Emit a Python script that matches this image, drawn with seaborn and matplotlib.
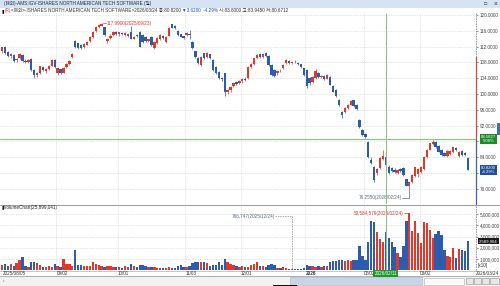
import numpy as np
import pandas as pd
import matplotlib
matplotlib.use('Agg')
import matplotlib.pyplot as plt
import seaborn as sns
from matplotlib import font_manager
from matplotlib.patches import Rectangle

# ---------------- data ----------------
holidays = ['2025-09-01', '2025-11-27', '2025-12-25', '2026-01-01', '2026-01-19', '2026-02-16']
dates = [d for d in pd.bdate_range('2025-08-05', '2026-03-24') if d.strftime('%Y-%m-%d') not in holidays]

opens = [110.8, 111.8, 110.6, 109.6, 109.8, 108.5, 109.0, 109.8, 108.4, 108.1,
         108.8, 106.0, 104.8, 105.3, 106.8, 105.9, 106.3, 107.2, 108.6, 105.3,
         106.2, 105.4, 106.8, 107.6, 109.3, 113.3, 112.8, 112.4, 111.9, 112.5,
         113.3, 114.3, 115.9, 117.0, 117.3, 116.9, 113.3, 114.1, 114.9, 115.6,
         115.1, 115.4, 114.9, 114.8, 115.8, 114.0, 115.0, 115.8, 114.9, 114.4,
         113.4, 114.5, 111.6, 112.8, 113.8, 114.8, 113.2, 114.8, 117.6, 117.3,
         115.9, 115.1, 114.6, 114.9, 115.3, 113.2, 110.8, 109.2, 107.3, 110.3,
         109.3, 110.0, 108.6, 106.8, 105.6, 104.0, 105.2, 100.6, 100.9, 102.0,
         103.0, 102.8, 103.2, 103.8, 104.0, 106.9, 107.6, 109.0, 110.0, 109.3,
         110.3, 109.6, 107.3, 106.0, 105.2, 105.9, 106.6, 107.8, 108.4, 107.9,
         108.2, 107.9, 107.5, 106.5, 106.1, 104.0, 103.0, 104.0, 105.2, 104.3,
         104.6, 103.9, 104.4, 102.1, 101.0, 98.5, 95.5, 95.5, 96.4, 97.3,
         98.4, 97.2, 93.4, 90.9, 89.9, 87.9, 83.3, 81.6, 79.9, 81.2,
         83.6, 84.1, 81.6, 81.2, 80.8, 80.0, 80.9, 81.2, 78.4, 76.6,
         77.6, 79.2, 79.8, 80.2, 80.9, 84.0, 85.9, 87.3, 87.8, 86.8,
         85.8, 85.0, 84.3, 84.9, 85.3, 86.4, 84.2, 85.6, 85.0, 83.80]
highs = [112.0, 112.1, 111.0, 110.4, 110.0, 109.2, 110.4, 110.0, 108.8, 108.8,
         109.0, 106.4, 105.6, 107.2, 107.1, 106.5, 107.3, 108.8, 108.9, 106.7,
         106.4, 106.8, 107.8, 108.6, 110.4, 113.6, 113.0, 112.6, 112.9, 113.4,
         114.6, 116.0, 117.2, 117.8, 117.99, 117.0, 114.2, 115.2, 115.9, 115.9,
         115.8, 115.7, 115.6, 115.4, 117.1, 114.7, 115.3, 116.0, 115.1, 114.6,
         114.0, 114.7, 113.4, 114.3, 115.1, 115.0, 114.7, 117.0, 117.8, 117.5,
         116.1, 115.3, 114.8, 115.6, 116.1, 113.4, 111.0, 109.4, 109.6, 110.5,
         110.6, 110.2, 108.8, 107.0, 105.8, 104.4, 105.4, 101.2, 102.0, 103.1,
         103.3, 103.6, 104.0, 104.2, 107.0, 107.9, 109.2, 110.0, 110.4, 110.4,
         110.6, 109.8, 107.5, 106.2, 106.0, 106.4, 107.6, 108.8, 108.6, 108.4,
         108.5, 108.2, 107.7, 106.7, 106.3, 104.2, 104.5, 106.4, 105.5, 104.9,
         104.8, 105.0, 104.6, 102.3, 101.2, 98.8, 95.8, 96.6, 97.4, 98.4,
         98.6, 97.4, 93.6, 91.1, 90.2, 88.1, 84.0, 81.8, 81.2, 84.0,
         85.8, 84.4, 81.9, 81.5, 81.3, 81.0, 81.2, 81.5, 78.6, 77.8,
         79.8, 81.6, 81.2, 81.8, 84.2, 86.0, 87.7, 88.3, 88.0, 87.0,
         86.0, 85.3, 85.8, 85.7, 86.7, 86.6, 85.5, 85.8, 85.4, 83.945]
lows = [110.5, 110.2, 109.3, 109.2, 108.2, 108.1, 108.8, 108.0, 107.8, 107.9,
        105.8, 104.0, 104.4, 105.0, 105.8, 105.2, 106.1, 107.0, 106.6, 104.8,
        105.1, 105.2, 106.6, 107.4, 109.1, 111.7, 111.5, 111.4, 111.7, 112.3,
        113.1, 114.1, 115.7, 116.8, 117.1, 114.8, 113.0, 113.8, 114.7, 114.9,
        114.8, 114.9, 114.7, 114.5, 113.8, 113.8, 114.4, 111.8, 113.0, 113.2,
        113.1, 112.2, 111.3, 112.6, 113.6, 114.0, 113.0, 114.6, 116.6, 116.4,
        114.7, 114.3, 113.9, 114.7, 113.8, 111.4, 109.2, 107.6, 107.1, 108.8,
        109.1, 108.9, 105.9, 105.0, 103.8, 103.4, 99.6, 99.9, 100.6, 101.8,
        102.3, 102.6, 102.9, 103.2, 103.8, 106.5, 107.4, 108.8, 109.1, 109.1,
        109.3, 107.2, 104.6, 104.3, 104.9, 105.5, 106.4, 107.6, 107.6, 107.7,
        107.8, 107.3, 106.6, 104.6, 101.6, 102.4, 102.8, 103.8, 104.0, 104.0,
        103.6, 103.7, 102.2, 100.4, 99.2, 97.0, 94.0, 95.3, 96.2, 97.1,
        96.7, 96.0, 91.5, 89.4, 88.8, 83.9, 82.4, 77.8, 79.5, 81.0,
        83.3, 81.8, 79.7, 80.3, 80.0, 79.8, 80.2, 79.3, 76.6, 76.255,
        77.4, 79.0, 79.0, 80.0, 80.7, 83.8, 85.7, 87.1, 86.4, 85.2,
        84.4, 84.2, 84.1, 84.6, 85.1, 85.6, 84.0, 84.4, 84.2, 80.6712]
closes = [111.8, 110.4, 109.5, 110.1, 108.4, 108.9, 110.2, 108.3, 108.0, 108.5,
          106.0, 104.9, 105.4, 107.0, 106.0, 106.3, 107.1, 108.6, 106.8, 106.5,
          105.3, 106.6, 107.6, 108.4, 110.2, 112.0, 111.7, 111.6, 112.7, 113.2,
          114.4, 115.8, 117.0, 117.5, 117.8, 115.0, 114.0, 114.8, 115.6, 115.1,
          115.6, 115.1, 115.4, 115.2, 114.0, 114.5, 114.6, 112.0, 113.2, 113.4,
          113.8, 112.4, 113.2, 114.1, 114.9, 114.2, 114.5, 116.6, 116.8, 116.6,
          114.9, 114.5, 114.1, 115.4, 115.0, 111.6, 109.4, 107.8, 109.4, 109.0,
          110.4, 109.2, 106.1, 105.2, 104.0, 103.7, 100.4, 100.9, 101.8, 102.9,
          102.6, 103.3, 103.8, 103.6, 106.8, 107.6, 109.0, 109.8, 109.3, 110.2,
          109.5, 107.4, 104.8, 104.5, 105.8, 105.7, 107.4, 108.6, 107.9, 108.2,
          108.0, 107.6, 106.8, 104.8, 101.9, 102.7, 104.3, 105.8, 104.3, 104.6,
          103.9, 104.8, 102.4, 100.6, 99.4, 97.2, 94.7, 96.4, 97.2, 98.2,
          96.9, 96.2, 91.7, 89.6, 89.0, 84.1, 82.6, 78.2, 81.0, 83.8,
          84.3, 82.0, 79.9, 80.6, 80.2, 80.8, 80.4, 79.5, 76.8, 77.6,
          79.6, 81.4, 80.9, 81.6, 84.0, 85.8, 87.5, 87.9, 86.6, 85.4,
          84.6, 84.4, 85.6, 85.5, 86.5, 85.8, 85.3, 84.6, 84.44, 80.82]
volumes_m = [4.5, 5.8, 4.0, 5.5, 4.2, 6.5, 9.0, 12.0, 4.0, 3.0,
             7.0, 7.5, 6.8, 4.5, 2.5, 3.0, 3.5, 3.2, 5.9, 3.8,
             2.8, 9.8, 6.0, 5.2, 4.0, 17.8, 5.0, 4.5, 3.8, 3.5,
             4.0, 7.4, 5.5, 5.0, 3.5, 3.0, 4.2, 3.6, 3.2, 2.5,
             3.0, 2.2, 3.5, 3.0, 5.9, 3.8, 3.0, 4.6, 4.4, 4.0,
             2.5, 3.0, 2.8, 2.2, 2.0, 1.8, 2.3, 2.6, 2.0, 2.4,
             3.8, 4.5, 3.2, 3.0, 3.5, 6.8, 7.4, 7.4, 7.0, 7.2,
             6.5, 4.0, 4.4, 4.5, 7.4, 5.0, 9.9, 7.0, 5.5, 5.0,
             3.5, 3.0, 3.8, 3.2, 3.0, 4.5, 5.2, 7.4, 4.0, 3.5,
             3.0, 4.8, 5.2, 5.0, 2.2, 2.0, 2.5, 1.8, 1.5, 0.766747,
             1.2, 0.9, 1.0, 1.8, 5.0, 3.8, 3.5, 3.0, 4.0, 3.2,
             3.4, 4.2, 7.4, 7.8, 8.0, 9.5, 9.2, 8.0, 9.0, 8.6,
             9.5, 8.8, 22.0, 13.0, 9.0, 25.0, 44.0, 43.0, 34.0, 28.0,
             25.0, 34.0, 29.0, 25.0, 21.0, 15.0, 12.0, 22.0, 43.5, 50.584579,
             35.0, 44.0, 33.0, 24.0, 43.0, 42.0, 36.0, 29.0, 32.0, 35.0,
             31.0, 18.0, 13.0, 12.0, 20.0, 11.0, 19.0, 17.7, 17.0, 25.899041]

tick_dates = ['2025-08-05', '2025-09-02', '2025-10-01', '2025-11-03', '2025-12-01',
              '2026-01-02', '2026-02-02', '2026-03-02']
tick_labels = ['2025/08/05', '09/02', '10/01', '11/03', '12/01', '2026', '02/02', '03/02']
last_label = '2026/03/24'
price_ticks = [76, 80, 84, 88, 92, 96, 100, 104, 108, 112, 116, 120]
vol_ticks = [1000000, 2000000, 3000000, 4000000, 5000000]
cross_date = '2026-02-11'
cross_price = 88.5827
cross_pct = '5.08%'
last_pct = '-4.29%'
max_date, min_date = '2025-09-23', '2026-02-24'
vmin_date = '2025-12-24'

title_text = '(해외)-AMS:IGV-ISHARES NORTH AMERICAN TECH SOFTWARE (일)'
info_parts = [('▮', '#111111'), ('(R)', '#d04040'),
              ('<해외>-ISHARES NORTH AMERICAN TECH SOFTWARE>2026/03/24 종:80.8200 ', '#333333'),
              ('▼3.6200  -4.29% ', '#2050c0'),
              ('시:83.8000 고:83.9450 저:80.6712', '#333333')]

# ---------------- style ----------------
sns.set_theme(style='white')
names = {f.name for f in font_manager.fontManager.ttflist}
lat = 'Liberation Sans Narrow' if 'Liberation Sans Narrow' in names else 'Liberation Sans'
FAM = [lat, 'Noto Sans CJK KR', 'DejaVu Sans']
plt.rcParams['font.family'] = FAM
FS = 3.8 if lat.endswith('Narrow') else 3.3

red, blue = '#e0392c', '#2c5cab'
gridc = '#cccccc'
n = len(dates)
idx = np.arange(n)
O, Hh, L, C = map(np.array, (opens, highs, lows, closes))
up = C >= O
col = np.where(up, red, blue)
ds = [d.strftime('%Y-%m-%d') for d in dates]
pos = {d: i for i, d in enumerate(ds)}

fig = plt.figure(figsize=(5.0, 2.86), dpi=100)
fig.patch.set_facecolor('white')
W, H = 500.0, 286.0


def add_ax(x0, y0, x1, y1):
    return fig.add_axes([x0 / W, 1 - y1 / H, (x1 - x0) / W, (y1 - y0) / H])


XL = (-0.68, 161.77)
axp = add_ax(0, 13, 476, 204)
axv = add_ax(0, 205, 476, 270.25)
ov = fig.add_axes([0, 0, 1, 1], zorder=-1)
ov.set_xlim(0, W); ov.set_ylim(H, 0); ov.axis('off')

month_pos = [pos[d] for d in tick_dates]

for ax in (axp, axv):
    ax.set_facecolor('none')
    for s in ax.spines.values():
        s.set_visible(False)
    for mp in month_pos[1:]:
        ax.axvline(mp - 0.5, color=gridc, lw=0.5, ls=(0, (1, 1.5)), zorder=0)
    ax.vlines(pos[cross_date], 0, 1, transform=ax.get_xaxis_transform(),
              color='#8fc080', lw=0.8, zorder=6)

# ---- price pane ----
for y in price_ticks:
    axp.axhline(y, color=gridc, lw=0.5, ls=(0, (1, 1.5)), zorder=0)
axp.vlines(idx, L, Hh, colors=col, lw=0.5, zorder=3)
axp.bar(idx, np.maximum(np.abs(C - O), 0.12), bottom=np.minimum(O, C),
        width=0.8, color=col, lw=0, zorder=4)
axp.axhline(cross_price, color='#8fc080', lw=0.8, zorder=6)
axp.set_xlim(*XL)
axp.set_ylim(72.15, 120.5)
axp.set_xticks([])
axp.set_yticks(price_ticks)
# labels under the crosshair / last-price boxes are covered in the original
hidden = {88, 80}
axp.set_yticklabels(['' if v in hidden else f'{v:.4f}' for v in price_ticks])
axp.yaxis.tick_right()
axp.tick_params(axis='y', right=True, left=False, labelsize=FS, pad=1.2,
                length=1.5, width=0.4, colors='#444444')
tr = axp.get_yaxis_transform()
axp.plot([1, 1], [109.4, 120.5], transform=tr, color='#888888', lw=0.6,
         ls=(0, (2, 1)), clip_on=False)
axp.plot([1, 1], [cross_price, 109.4], transform=tr, color='#d04a3a', lw=0.9, clip_on=False)
axp.plot([1, 1], [72.15, cross_price], transform=tr, color='#3d63ad', lw=0.9, clip_on=False)
axp.text(1.026, cross_price, f'{cross_price:.4f}\n{cross_pct}', transform=tr,
         ha='center', va='center', fontsize=FS - 0.2, color='white', linespacing=0.95,
         bbox=dict(boxstyle='square,pad=0.25', fc='#1c8c2a', ec='none'), clip_on=False, zorder=8)
axp.text(1.026, C[-1], f'{C[-1]:.4f}\n{last_pct}', transform=tr,
         ha='center', va='center', fontsize=FS - 0.2, color='white', linespacing=0.95,
         bbox=dict(boxstyle='square,pad=0.25', fc='#1f4e9a', ec='none'), clip_on=False, zorder=8)
im = pos[max_date]
hmax = Hh[im]
axp.plot([im + 0.4, im + 1.6], [hmax, hmax], color='#d8392c', lw=0.5)
axp.text(im + 1.7, hmax - 0.15, f'{hmax:.4f}({max_date.replace("-", "/")})',
         color='#d8392c', fontsize=FS, ha='left', va='center')
imin = pos[min_date]
lmin = L[imin]
axp.plot([imin - 2.4, imin, imin], [73.7, 73.7, lmin - 0.15], color='#5a6b80', lw=0.5)
axp.text(imin - 2.5, 73.7, f'{lmin:.4f}({min_date.replace("-", "/")})',
         color='#5a6b80', fontsize=FS, ha='right', va='center')

# ---- volume pane ----
vdf = pd.DataFrame({'idx': idx, 'vol': np.array(volumes_m) * 1e6 / 10,
                    'dir': np.where(up, 'up', 'down')})
for y in vol_ticks:
    axv.axhline(y, color=gridc, lw=0.5, ls=(0, (1, 1.5)), zorder=0)
sns.barplot(data=vdf, x='idx', y='vol', hue='dir', palette={'up': red, 'down': blue},
            native_scale=True, width=0.8, dodge=False, legend=False, errorbar=None,
            saturation=1, linewidth=0, ax=axv, zorder=3)
axv.set_xlim(*XL)
axv.set_ylim(0, 5.8e6)
axv.set_xlabel(''); axv.set_ylabel('')
axv.set_xticks([])
axv.set_yticks(vol_ticks)
axv.set_yticklabels([f'{v:,.0f}' for v in vol_ticks])
axv.yaxis.tick_right()
axv.tick_params(axis='y', right=True, left=False, labelsize=FS, pad=1.2,
                length=1.5, width=0.4, colors='#444444')
trv = axv.get_yaxis_transform()
axv.plot([1, 1], [0, 5.8e6], transform=trv, color='#888888', lw=0.6,
         ls=(0, (2, 1)), clip_on=False)
axv.text(1.004, 0.38e6, '[x10]', transform=trv, ha='left', va='center',
         fontsize=FS, color='#333333', clip_on=False)
axv.text(1.026, vdf['vol'].iloc[-1], f'{vdf["vol"].iloc[-1]:,.0f}', transform=trv,
         ha='center', va='center', fontsize=FS - 0.2, color='white',
         bbox=dict(boxstyle='square,pad=0.2', fc='#1a1a1a', ec='none'), clip_on=False, zorder=8)
vmax_i = int(np.argmax(volumes_m))
vmax = vdf['vol'].iloc[vmax_i]
axv.plot([vmax_i - 1.8, vmax_i - 0.3], [vmax, vmax], color='#d8392c', lw=0.5)
axv.text(vmax_i - 1.9, vmax, f'{volumes_m[vmax_i] * 1e6:,.0f}({ds[vmax_i].replace("-", "/")})',
         color='#d8392c', fontsize=FS, ha='right', va='center')
vi = pos[vmin_date]
vv = vdf['vol'].iloc[vi]
axv.plot([vi - 5.8, vi, vi], [4.82e6, 4.82e6, vv], color='#7a8696', lw=0.5, ls=(0, (2, 1.5)))
axv.text(vi - 5.9, 4.82e6, f'{volumes_m[vi] * 1e6:,.0f}({vmin_date.replace("-", "/")})',
         color='#5a6b80', fontsize=FS, ha='right', va='center')

xt = axv.get_xaxis_transform()
for mp, lab in zip(month_pos, tick_labels):
    axv.text(mp - 0.4 if mp > 0 else 0.2, -0.045, lab, transform=xt, ha='left', va='center',
             fontsize=FS, color='#333333', fontweight='bold' if lab == '2026' else 'normal',
             clip_on=False)
axv.text(pos[cross_date], -0.045, cross_date.replace('-', '/'), transform=xt,
         ha='center', va='center', fontsize=FS, color='white', clip_on=False, zorder=9,
         bbox=dict(boxstyle='square,pad=0.25', fc='#1c9a2a', ec='none'))

# ---- overlay: frame, header, scrollbar ----
ov.add_patch(Rectangle((0, 0), 500, 7.5, fc='#d6e3f2', ec='none'))
ov.text(4, 3.9, title_text, fontsize=FS, color='#1a2a44', va='center', ha='left')
ov.text(486, 3.9, '□', fontsize=FS + 0.5, color='#333333', va='center', ha='center')
ov.text(495, 3.9, '×', fontsize=FS + 1.5, color='#333333', va='center', ha='center')
fig.canvas.draw()
rend = fig.canvas.get_renderer()
xx = 2.0
for s, c in info_parts:
    t = ov.text(xx, 10.6, s, fontsize=FS, color=c, va='center', ha='left')
    xx += t.get_window_extent(rend).width * 500 / fig.bbox.width
ov.plot([0, 500], [204.5, 204.5], color='#9a9a9a', lw=0.7)
ov.text(2, 208, '▮VolumeChart(25,899,041)', fontsize=FS, color='#222222', va='center', ha='left')
ov.plot([0, 476], [270.6, 270.6], color='#b0b0b0', lw=0.5)
ov.text(499, 273.3, last_label, fontsize=FS, color='#333333', va='center', ha='right')
ov.plot([0, 500], [276.2, 276.2], color='#a0a0a0', lw=0.6)
ov.add_patch(Rectangle((0, 276.5), 500, 9.5, fc='#f2f2f2', ec='none'))
ov.add_patch(Rectangle((290, 277), 132, 8, fc='#c8d5e6', ec='#aab6c8', lw=0.4))
ov.add_patch(Rectangle((424, 277.5), 40, 7, fc='#fafafa', ec='#b0b0b0', lw=0.4))
for bx in (466, 474, 482):
    ov.add_patch(Rectangle((bx, 278), 7, 6, fc='#e8e8e8', ec='#909090', lw=0.4))
ov.add_patch(Rectangle((490, 278), 9, 6, fc='#e8e8e8', ec='#909090', lw=0.4))
ov.add_patch(Rectangle((273, 284.5), 24, 1.5, fc='#111111', ec='none'))
ov.add_patch(Rectangle((497, 123), 3, 12, fc='#3d6fc0', ec='none'))
ov.text(3, 281, '‹', fontsize=FS, color='#666666', va='center')

fig.savefig('out.png', dpi=100)
